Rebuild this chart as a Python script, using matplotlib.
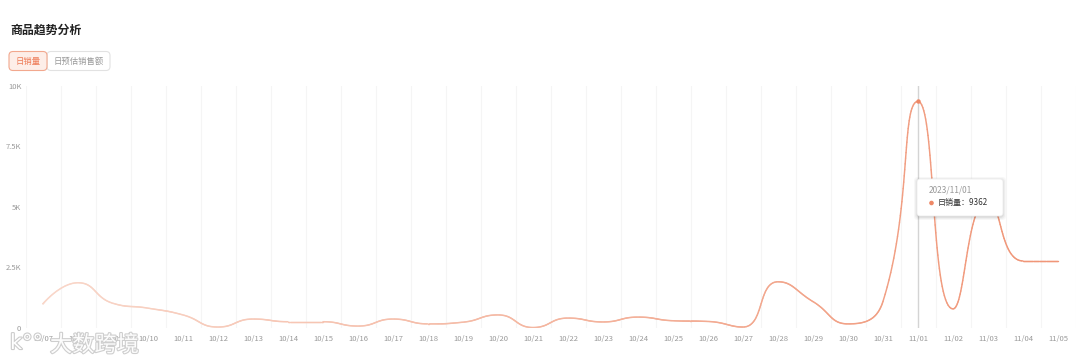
import numpy as np
import matplotlib
matplotlib.use("Agg")
import matplotlib.pyplot as plt
from matplotlib.collections import LineCollection
from matplotlib.patches import FancyBboxPatch, Circle
import matplotlib.patheffects as pe

plt.rcParams['font.family'] = ['Noto Sans CJK SC', 'DejaVu Sans']

# ---------------- data ----------------
dates = ["10/07", "10/08", "10/09", "10/10", "10/11", "10/12", "10/13", "10/14",
         "10/15", "10/16", "10/17", "10/18", "10/19", "10/20", "10/21", "10/22",
         "10/23", "10/24", "10/25", "10/26", "10/27", "10/28", "10/29", "10/30",
         "10/31", "11/01", "11/02", "11/03", "11/04", "11/05"]
sales = [1000, 1870, 1020, 820, 540, 40, 370, 260, 260, 80,
         370, 170, 240, 540, 20, 410, 250, 450, 300, 270,
         40, 1910, 1090, 170, 1100, 9362, 790, 5300, 2770, 2770]
y_ticks = [0, 2500, 5000, 7500, 10000]
y_tick_labels = ["0", "2.5K", "5K", "7.5K", "10K"]
title = "商品趋势分析"
tabs = ["日销量", "日预估销售额"]
tip_date = "2023/11/01"
tip_idx = 25

W, H = 1080, 362
fig = plt.figure(figsize=(W / 100, H / 100), dpi=100)
fig.patch.set_facecolor("white")

# plot area in pixels: x 25.5..1075.5, y 86..328
L, R, T, B = 25.5, 1075.5, 86, 328
ax = fig.add_axes([L / W, 1 - B / H, (R - L) / W, (B - T) / H])
ax.set_xlim(-0.5, len(dates) - 0.5)
ax.set_ylim(0, 10000)
for s in ax.spines.values():
    s.set_visible(False)
ax.set_yticks(y_ticks)
ax.set_yticklabels(y_tick_labels)
ax.set_xticks(range(len(dates)))
ax.set_xticklabels(dates)
ax.tick_params(axis="both", length=0, labelsize=5.5, colors="#9a9a9a")
ax.tick_params(axis="y", pad=3)
ax.tick_params(axis="x", pad=5)
for b in np.arange(-0.5, len(dates), 1.0):
    ax.axvline(b, color="#f5f5f5", lw=0.8, zorder=0)

# axis pointer
ax.axvline(tip_idx, color="#d4d4d4", lw=1.0, zorder=1)


# ---------------- echarts-like smoothing ----------------
def smooth_path(px, py, smooth=0.5, n=40):
    N = len(px)
    out_x, out_y = [px[0]], [py[0]]
    cpx0, cpy0 = px[0], py[0]
    for i in range(1, N):
        x, y = px[i], py[i]
        prevX, prevY = px[i - 1], py[i - 1]
        if i == N - 1:
            cpx1, cpy1 = x, y
            ncx, ncy = x, y
        else:
            nextX, nextY = px[i + 1], py[i + 1]
            vx, vy = nextX - prevX, nextY - prevY
            l0 = np.hypot(x - prevX, y - prevY)
            l1 = np.hypot(nextX - x, nextY - y)
            r = l1 / (l0 + l1)
            ncx = x + vx * smooth * r
            ncy = y + vy * smooth * r
            ncx = min(ncx, max(nextX, x)); ncx = max(ncx, min(nextX, x))
            ncy = min(ncy, max(nextY, y)); ncy = max(ncy, min(nextY, y))
            vx, vy = ncx - x, ncy - y
            cpx1 = x - vx * l0 / l1
            cpy1 = y - vy * l0 / l1
            cpx1 = min(cpx1, max(prevX, x)); cpx1 = max(cpx1, min(prevX, x))
            cpy1 = min(cpy1, max(prevY, y)); cpy1 = max(cpy1, min(prevY, y))
            vx, vy = x - cpx1, y - cpy1
            ncx = x + vx * l1 / l0
            ncy = y + vy * l1 / l0
        t = np.linspace(0, 1, n)[1:]
        bx = ((1 - t) ** 3 * prevX + 3 * (1 - t) ** 2 * t * cpx0
              + 3 * (1 - t) * t ** 2 * cpx1 + t ** 3 * x)
        by = ((1 - t) ** 3 * prevY + 3 * (1 - t) ** 2 * t * cpy0
              + 3 * (1 - t) * t ** 2 * cpy1 + t ** 3 * y)
        out_x.extend(bx); out_y.extend(by)
        cpx0, cpy0 = ncx, ncy
    return np.array(out_x), np.array(out_y)


pts = ax.transData.transform(np.column_stack([np.arange(len(sales)), sales]))
sx, sy = smooth_path(pts[:, 0], pts[:, 1])
data_pts = ax.transData.inverted().transform(np.column_stack([sx, sy]))
segs = np.stack([data_pts[:-1], data_pts[1:]], axis=1)
frac = (data_pts[:-1, 0] + 0.5) / len(dates)
c0 = np.array([249, 216, 203]) / 255
c1 = np.array([240, 150, 120]) / 255
cols = [tuple(c0 + (c1 - c0) * min(1, f * 1.05)) for f in frac]
lc = LineCollection(segs, colors=cols, linewidths=1.05, capstyle="round", zorder=3)
ax.add_collection(lc)
ax.plot([tip_idx], [sales[tip_idx]], "o", color="#ee8866", ms=3.2, zorder=4,
        markeredgewidth=0)

# ---------------- overlay (pixel coordinates) ----------------
ov = fig.add_axes([0, 0, 1, 1], facecolor="none")
ov.set_xlim(0, W)
ov.set_ylim(H, 0)
ov.axis("off")

ov.text(10, 30, title, fontsize=8.6, fontweight="bold", color="#222222",
        va="center", ha="left")

# tabs
ov.add_patch(FancyBboxPatch((47, 51.5), 63, 19, boxstyle="round,pad=0,rounding_size=4",
                            fc="white", ec="#e2e2e2", lw=0.8))
ov.add_patch(FancyBboxPatch((9, 51.5), 38, 19, boxstyle="round,pad=0,rounding_size=4",
                            fc="#fdeee8", ec="#f2a88e", lw=0.8))
ov.text(28, 61.5, tabs[0], fontsize=6, color="#ee7a55", ha="center", va="center")
ov.text(79, 61.5, tabs[1], fontsize=6, color="#999999", ha="center", va="center")

# tooltip
tx, ty, tw, th = 917, 179, 86, 37
for k, a in [(4, 0.03), (3, 0.04), (2, 0.05), (1, 0.06)]:
    ov.add_patch(FancyBboxPatch((tx - k + 1, ty - k + 2), tw + 2 * k - 2, th + 2 * k - 2,
                                boxstyle="round,pad=0,rounding_size=4",
                                fc="#000000", ec="none", alpha=a, zorder=5))
ov.add_patch(FancyBboxPatch((tx, ty), tw, th, boxstyle="round,pad=0,rounding_size=3",
                            fc="white", ec="#eeeeee", lw=0.6, zorder=6))
ov.text(929, 190, tip_date, fontsize=6, color="#999999", ha="left", va="center", zorder=7)
ov.add_patch(Circle((931.5, 203), 2.3, fc="#ee8866", ec="none", zorder=7))
ov.text(938, 203, f"{tabs[0]}：{sales[tip_idx]}", fontsize=5.8, color="#333333",
        ha="left", va="center", zorder=7)

# watermark
wm = ov.text(50, 345, "大数跨境", fontsize=16, color="white", ha="left", va="center",
             zorder=8, alpha=0.95)
wm.set_path_effects([pe.withStroke(linewidth=1.6, foreground="#cccccc")])
lg = ov.text(10, 343, "k°°", fontsize=15, color="white", ha="left", va="center",
             zorder=8, family=["DejaVu Sans"])
lg.set_path_effects([pe.withStroke(linewidth=1.6, foreground="#cccccc")])

fig.savefig("out.png", dpi=100, facecolor="white")
